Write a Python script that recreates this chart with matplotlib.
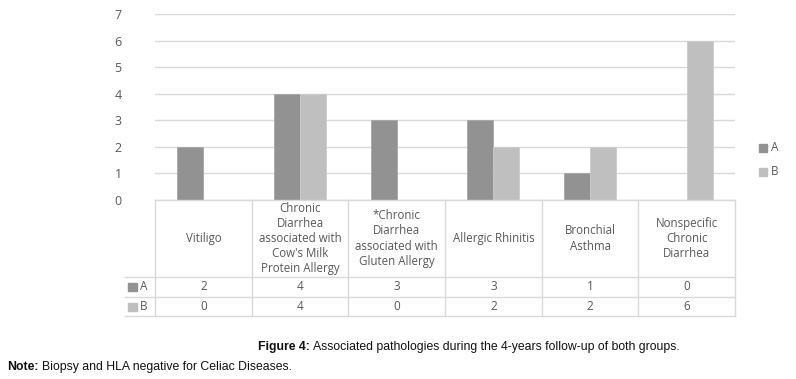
import matplotlib.pyplot as plt
import matplotlib.patches as mpatches
import numpy as np

# --- Data ---
categories = ['Vitiligo',
              'Chronic\nDiarrhea\nassociated with\nCow\'s Milk\nProtein Allergy',
              '*Chronic\nDiarrhea\nassociated with\nGluten Allergy',
              'Allergic Rhinitis',
              'Bronchial\nAsthma',
              'Nonspecific\nChronic\nDiarrhea']
series_a = [2, 4, 3, 3, 1, 0]
series_b = [0, 4, 0, 2, 2, 6]
series_names = ['A', 'B']

col_a = '#929292'
col_b = '#bfbfbf'
grid_col = '#d9d9d9'
txt_col = '#595959'
font = ['Open Sans', 'DejaVu Sans']

W, H = 796, 379
fig = plt.figure(figsize=(W / 100, H / 100), dpi=100)

def fx(px):
    return px / W

def fy(py):
    return 1 - py / H

# --- Bar chart ---
x0, x1, ytop, ybot = 155, 735, 14, 200
ax = fig.add_axes([fx(x0), fy(ybot), fx(x1 - x0), (ybot - ytop) / H])
x = np.arange(len(categories))
bw = 0.27
ax.bar(x - bw / 2, series_a, bw, color=col_a, edgecolor='#a6a6a6', linewidth=0.6, zorder=3)
ax.bar(x + bw / 2, series_b, bw, color=col_b, edgecolor='#cccccc', linewidth=0.6, zorder=3)
ax.set_xlim(-0.5, len(categories) - 0.5)
ax.set_ylim(0, 7)
ax.set_yticks(range(8))
ax.yaxis.grid(True, color=grid_col, linewidth=1)
ax.set_axisbelow(True)
for s in ax.spines.values():
    s.set_visible(False)
ax.tick_params(axis='y', length=0, pad=24, labelsize=9, labelcolor=txt_col)
for lab in ax.get_yticklabels():
    lab.set_fontfamily(font)
ax.set_xticks([])

# --- Data table ---
tl = 125
tb = 316
tax = fig.add_axes([fx(tl), fy(tb), fx(x1 - tl), (tb - ybot) / H])
unit = (x1 - x0) / len(categories)
tax.set_xlim(-0.5 - (x0 - tl) / unit, len(categories) - 0.5)
tax.set_ylim(tb, ybot)
tax.axis('off')
left_d = -0.5 - (x0 - tl) / unit
r1, r2 = 277, 297
lw = 1
tax.plot([-0.5, 5.5], [ybot, ybot], color=grid_col, lw=lw, clip_on=False)
for yy in (r1, r2, tb):
    tax.plot([left_d, 5.5], [yy, yy], color=grid_col, lw=lw, clip_on=False)
for xb in np.arange(-0.5, 6.0, 1.0):
    tax.plot([xb, xb], [ybot, tb], color=grid_col, lw=lw, clip_on=False)

for i, cat in enumerate(categories):
    tax.text(i, (ybot + r1) / 2, cat, ha='center', va='center', fontsize=8.3,
             color=txt_col, family=font, linespacing=1.22)
    tax.text(i, (r1 + r2) / 2, str(series_a[i]), ha='center', va='center',
             fontsize=8.5, color=txt_col, family=font)
    tax.text(i, (r2 + tb) / 2, str(series_b[i]), ha='center', va='center',
             fontsize=8.5, color=txt_col, family=font)

sq = 9 / unit
for yy0, yy1, c, name in [(r1, r2, col_a, series_names[0]), (r2, tb, col_b, series_names[1])]:
    ym = (yy0 + yy1) / 2
    tax.add_patch(mpatches.Rectangle((left_d + 3 / unit, ym - 4), sq, 8, color=c, clip_on=False))
    tax.text(left_d + 15 / unit, ym, name, ha='left', va='center', fontsize=8.5,
             color=txt_col, family=font)

# --- Legend ---
for py, c, name in [(148, col_a, series_names[0]), (172, col_b, series_names[1])]:
    fig.patches.append(mpatches.Rectangle((fx(759), fy(py + 4)), fx(8), 8 / H,
                                          color=c, transform=fig.transFigure))
    fig.text(fx(771), fy(py), name, ha='left', va='center', fontsize=8.5,
             color=txt_col, family=font)

# --- Caption ---
cap_font = ['Liberation Sans Narrow', 'Liberation Sans', 'DejaVu Sans']
renderer = fig.canvas.get_renderer()

def caption(px, py, bold, rest, size):
    t = fig.text(fx(px), fy(py), bold, ha='left', va='center', fontsize=size,
                 weight='bold', family=cap_font, color='#111111')
    w = t.get_window_extent(renderer).width
    fig.text(fx(px + w + 3), fy(py), rest, ha='left', va='center', fontsize=size,
             family=cap_font, color='#111111')

caption(258, 347, 'Figure 4:', 'Associated pathologies during the 4-years follow-up of both groups.', 8.8)
caption(7, 367, 'Note:', 'Biopsy and HLA negative for Celiac Diseases.', 8.8)

fig.savefig('out.png', dpi=100)
